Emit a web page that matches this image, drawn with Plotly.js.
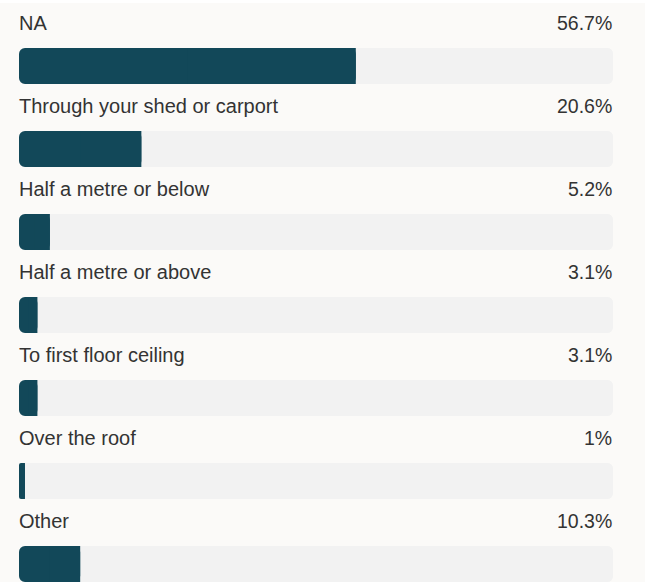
<!DOCTYPE html>
<html>
<head>
<meta charset="utf-8">
<script src="https://cdn.plot.ly/plotly-3.0.1.min.js"></script>
<style>
  html, body { margin: 0; padding: 0; background: #ffffff; }
  #chart { width: 646px; height: 582px; }
</style>
</head>
<body>
<div id="chart"></div>
<script>
// Survey answers and their share of responses (percent)
const categories = [
  "NA",
  "Through your shed or carport",
  "Half a metre or below",
  "Half a metre or above",
  "To first floor ceiling",
  "Over the roof",
  "Other"
];
const shares = [56.7, 20.6, 5.2, 3.1, 3.1, 1, 10.3];
const shareLabels = ["56.7%", "20.6%", "5.2%", "3.1%", "3.1%", "1%", "10.3%"];
const scaleMax = 100;

const fillColor = "#124859";
const trackColor = "#f2f2f2";
const textColor = "#333333";
const font = "Liberation Sans, Arial, sans-serif";
const barWidth = 0.434;
const radius = 6;

// Full-length track, drawn twice so that both ends get rounded
const trackRight = {
  type: "bar", orientation: "h",
  y: categories, x: categories.map(() => scaleMax), base: 0,
  width: barWidth,
  marker: { color: trackColor, cornerradius: radius, line: { width: 0 } },
  hoverinfo: "skip"
};
const trackLeft = {
  type: "bar", orientation: "h",
  y: categories, x: categories.map(() => -scaleMax), base: categories.map(() => scaleMax),
  width: barWidth,
  marker: { color: trackColor, cornerradius: radius, line: { width: 0 } },
  hoverinfo: "skip"
};
// Value bar with rounded ends...
const valueBar = {
  type: "bar", orientation: "h",
  y: categories, x: shares.map(v => -v), base: shares,
  width: barWidth,
  marker: { color: fillColor, cornerradius: radius, line: { width: 0 } },
  hoverinfo: "skip"
};
// ...and a square cap over its right half so only the left end stays rounded
const valueCap = {
  type: "bar", orientation: "h",
  y: categories, x: shares.map(v => v / 2), base: shares.map(v => v / 2),
  width: barWidth,
  marker: { color: fillColor, cornerradius: 0, line: { width: 0 } },
  hoverinfo: "skip"
};

const annotations = [];
categories.forEach((c, i) => {
  annotations.push({
    xref: "x", yref: "y", x: 0, y: c, yshift: 43, xshift: -2,
    xanchor: "left", yanchor: "middle", showarrow: false,
    text: c, font: { family: font, size: 20, color: textColor }
  });
  annotations.push({
    xref: "x", yref: "y", x: scaleMax, y: c, yshift: 43, xshift: 1,
    xanchor: "right", yanchor: "middle", showarrow: false,
    text: shareLabels[i], font: { family: font, size: 19.5, color: textColor }
  });
});

const layout = {
  width: 646, height: 582,
  margin: { l: 19, r: 33, t: 0, b: 0, pad: 0 },
  paper_bgcolor: "#fbfaf8",
  plot_bgcolor: "rgba(0,0,0,0)",
  barmode: "overlay",
  showlegend: false,
  xaxis: { range: [0, scaleMax], visible: false, fixedrange: true },
  yaxis: {
    type: "category", categoryorder: "array", categoryarray: categories,
    range: [6.217, -0.795], visible: false, fixedrange: true
  },
  annotations: annotations,
  shapes: [
    { type: "rect", xref: "paper", yref: "paper", x0: -0.1, x1: 1.1,
      ysizemode: "pixel", yanchor: 1, y0: 0, y1: -3,
      fillcolor: "#ffffff", line: { width: 0 }, layer: "below" },
    { type: "rect", xref: "paper", yref: "paper", y0: -0.1, y1: 1.1,
      xsizemode: "pixel", xanchor: 1, x0: 32, x1: 33,
      fillcolor: "#ffffff", line: { width: 0 }, layer: "below" }
  ]
};

Plotly.newPlot("chart", [trackRight, trackLeft, valueBar, valueCap], layout, { displayModeBar: false, staticPlot: true });
</script>
</body>
</html>
